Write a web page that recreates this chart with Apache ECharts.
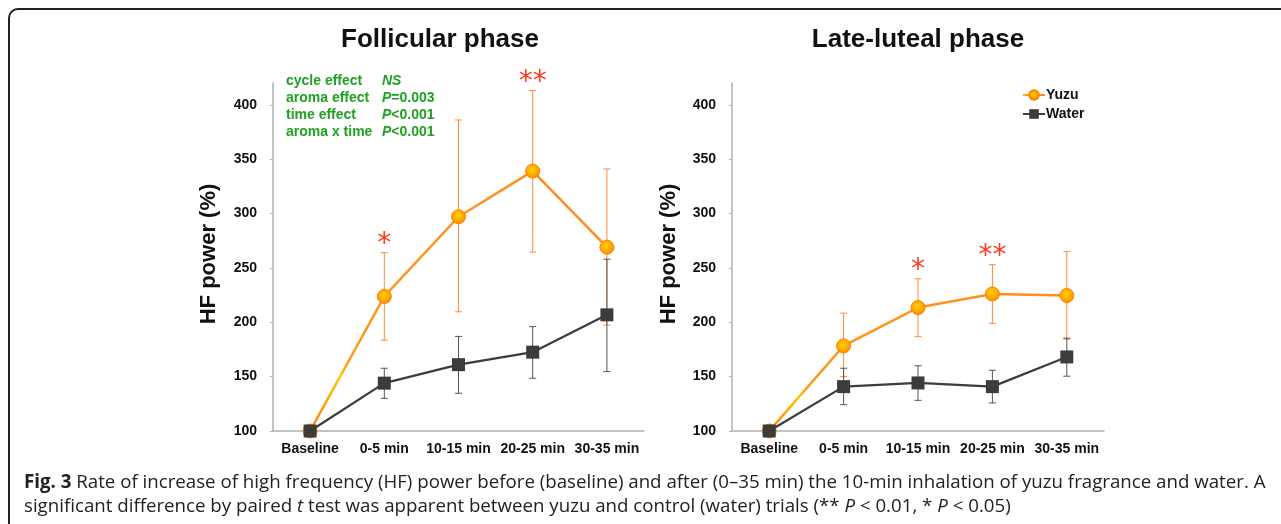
<!DOCTYPE html>
<html><head><meta charset="utf-8">
<script src="https://cdn.jsdelivr.net/npm/echarts@6/dist/echarts.min.js"></script>
<style>html,body{margin:0;padding:0;background:#fff}#c{width:1281px;height:524px}</style>
</head><body><div id="c"></div>
<script>
const categories = ['Baseline', '0-5 min', '10-15 min', '20-25 min', '30-35 min'];
const yTicks = [100, 150, 200, 250, 300, 350, 400];
// Follicular phase
const yuzuF = [100, 223.7, 297, 339, 269];
const yuzuFHigh = [100, 264, 386, 413, 341];
const yuzuFLow = [100, 183.5, 209.6, 264.5, 197.3];
const waterF = [100, 144, 161, 172.5, 206.8];
const waterFHigh = [100, 157.7, 187, 196, 258];
const waterFLow = [100, 130, 134.7, 148.5, 154.6];
const sigF = ['', '*', '', '**', ''];
// Late-luteal phase
const yuzuL = [100, 178.3, 213.5, 226, 224.6];
const yuzuLHigh = [100, 208.4, 240, 252.9, 265];
const yuzuLLow = [100, 150, 186.8, 199, 184.4];
const waterL = [100, 140.8, 144.2, 140.8, 168.1];
const waterLHigh = [100, 157.7, 160, 155.9, 185.4];
const waterLLow = [100, 124.2, 128.2, 125.8, 150.4];
const sigL = ['', '', '*', '**', ''];
const statsLabels = ['cycle effect', 'aroma effect', 'time effect', 'aroma x time'];
const statsValues = ['{i|NS}', '{i|P}=0.003', '{i|P}<0.001', '{i|P}<0.001'];

const FONT = 'Liberation Sans, Arial, Helvetica, sans-serif';
const ORANGE = '#ff8a1e';
const GRAY = '#3c3c3c';

const chart = echarts.init(document.getElementById('c'));

function errRender(color) {
  return function (params, api) {
    const i = api.value(0);
    const lo = api.coord([i, api.value(1)]);
    const hi = api.coord([i, api.value(2)]);
    if (Math.abs(hi[1] - lo[1]) < 0.5) return null;
    const hw = 3.5;
    const st = { stroke: color, lineWidth: 1 };
    return { type: 'group', children: [
      { type: 'line', shape: { x1: lo[0], y1: lo[1], x2: hi[0], y2: hi[1] }, style: st },
      { type: 'line', shape: { x1: hi[0] - hw, y1: hi[1], x2: hi[0] + hw, y2: hi[1] }, style: st },
      { type: 'line', shape: { x1: lo[0] - hw, y1: lo[1], x2: lo[0] + hw, y2: lo[1] }, style: st }
    ]};
  };
}
const sigArr = { sigF: sigF, sigL: sigL };
function sigRender(params, api) {
  const i = api.value(0);
  const s = sigArr[params.seriesName][i];
  if (!s) return null;
  const p = api.coord([i, api.value(1)]);
  return { type: 'text', style: { text: s, x: p[0], y: p[1] - 8, fill: '#ff3b1f',
    font: '28px DejaVu Sans', align: 'center', verticalAlign: 'middle' } };
}

function errData(lo, hi) { return categories.map((c, i) => [i, lo[i], hi[i]]); }
function sigData(hi) { return categories.map((c, i) => [i, hi[i]]); }

const yuzuLineColor = { type: 'linear', x: 0, y: 0, x2: 1, y2: 0, colorStops: [
  { offset: 0, color: '#ff7a00' }, { offset: 0.11, color: '#ffc400' },
  { offset: 0.13, color: '#ff9a1a' }, { offset: 1, color: ORANGE } ] };
const yuzuMarker = { type: 'radial', x: 0.45, y: 0.4, r: 0.6, colorStops: [
  { offset: 0, color: '#ffd400' }, { offset: 1, color: '#ff8c00' } ] };

function makeX(idx) {
  return { type: 'category', gridIndex: idx, data: categories, boundaryGap: true,
    axisLine: { lineStyle: { color: '#b0b0b0', width: 1.5 } },
    axisTick: { inside: true, length: 4, lineStyle: { color: '#b0b0b0' } },
    axisLabel: { color: '#111', fontFamily: FONT, fontWeight: 'bold', fontSize: 14, margin: 11, interval: 0 } };
}
function makeY(idx) {
  return { type: 'value', gridIndex: idx, min: 100, max: 420, interval: 50,
    axisLine: { show: true, lineStyle: { color: '#b0b0b0', width: 1.5 } },
    axisTick: { show: true, length: 3, lineStyle: { color: '#b0b0b0' } },
    splitLine: { show: false },
    axisLabel: { color: '#111', fontFamily: FONT, fontWeight: 'bold', fontSize: 14, margin: 16,
      showMaxLabel: false, formatter: v => (yTicks.includes(v) ? String(v) : '') } };
}
function panelSeries(idx, yz, yzLo, yzHi, wt, wtLo, wtHi, sigName) {
  return [
    { type: 'custom', xAxisIndex: idx, yAxisIndex: idx, renderItem: errRender('#ff8a3a'),
      data: errData(yzLo, yzHi), z: 1, silent: true },
    { name: 'Yuzu', type: 'line', xAxisIndex: idx, yAxisIndex: idx, data: yz, z: 2,
      symbol: 'circle', symbolSize: 14, showAllSymbol: true,
      lineStyle: { color: yuzuLineColor, width: 2.5 },
      itemStyle: { color: yuzuMarker, borderColor: '#ff8000', borderWidth: 1 } },
    { type: 'custom', xAxisIndex: idx, yAxisIndex: idx, renderItem: errRender('#555555'),
      data: errData(wtLo, wtHi), z: 3, silent: true },
    { name: 'Water', type: 'line', xAxisIndex: idx, yAxisIndex: idx, data: wt, z: 4,
      symbol: 'rect', symbolSize: 13, showAllSymbol: true,
      lineStyle: { color: GRAY, width: 2.2 },
      itemStyle: { color: GRAY } },
    { name: sigName, type: 'custom', xAxisIndex: idx, yAxisIndex: idx, renderItem: sigRender,
      data: sigData(yzHi), z: 5, silent: true }
  ];
}

const graphics = [
  { type: 'rect', shape: { x: 9, y: 9, width: 1400, height: 700, r: 9 },
    style: { fill: 'none', stroke: '#222', lineWidth: 2 }, silent: true },
  { type: 'text', x: 440, y: 40, style: { text: 'Follicular phase', font: 'bold 26px ' + FONT,
    fill: '#111', align: 'center', verticalAlign: 'middle' } },
  { type: 'text', x: 918, y: 40, style: { text: 'Late-luteal phase', font: 'bold 26px ' + FONT,
    fill: '#111', align: 'center', verticalAlign: 'middle' } },
  { type: 'text', x: 209, y: 254, rotation: Math.PI / 2, style: { text: 'HF power (%)',
    font: 'bold 22px ' + FONT, fill: '#111', align: 'center', verticalAlign: 'middle' } },
  { type: 'text', x: 669, y: 254, rotation: Math.PI / 2, style: { text: 'HF power (%)',
    font: 'bold 22px ' + FONT, fill: '#111', align: 'center', verticalAlign: 'middle' } },
  { type: 'text', left: 24, top: 471, style: {
    text: '{b|Fig. 3} Rate of increase of high frequency (HF) power before (baseline) and after (0–35 min) the 10-min inhalation of yuzu fragrance and water. A\nsignificant difference by paired {i|t} test was apparent between yuzu and control (water) trials (** {i|P} < 0.01, * {i|P} < 0.05)',
    font: '18.7px Open Sans', fill: '#222', lineHeight: 24,
    rich: { b: { fontWeight: 'bold', fontFamily: 'Open Sans', fontSize: 18.7, fill: '#222', lineHeight: 24 },
            i: { fontStyle: 'italic', fontFamily: 'Open Sans', fontSize: 18.7, fill: '#222', lineHeight: 24 } } } }
];
statsLabels.forEach((t, k) => {
  graphics.push({ type: 'text', x: 286, y: 81.5 + k * 17, style: { text: t, font: 'bold 14px ' + FONT,
    fill: '#22a022', verticalAlign: 'middle' } });
  graphics.push({ type: 'text', x: 382, y: 81.5 + k * 17, style: { text: statsValues[k], font: 'bold 14px ' + FONT,
    fill: '#22a022', verticalAlign: 'middle',
    rich: { i: { fontStyle: 'italic', fontWeight: 'bold', fontFamily: FONT, fontSize: 14, fill: '#22a022' } } } });
});

chart.setOption({
  animation: false,
  backgroundColor: '#fff',
  grid: [
    { left: 273, width: 371, top: 83, bottom: 93 },
    { left: 732, width: 372, top: 83, bottom: 93 }
  ],
  xAxis: [makeX(0), makeX(1)],
  yAxis: [makeY(0), makeY(1)],
  legend: { data: ['Yuzu', 'Water'], orient: 'vertical', left: 1022, top: 88, padding: 0,
    itemWidth: 22, itemHeight: 12, itemGap: 5,
    textStyle: { fontFamily: FONT, fontWeight: 'bold', fontSize: 14, color: '#111', padding: [0, 0, 0, -4] } },
  series: [].concat(
    panelSeries(0, yuzuF, yuzuFLow, yuzuFHigh, waterF, waterFLow, waterFHigh, 'sigF'),
    panelSeries(1, yuzuL, yuzuLLow, yuzuLHigh, waterL, waterLLow, waterLHigh, 'sigL')
  ),
  graphic: graphics
});
</script>
</body></html>
